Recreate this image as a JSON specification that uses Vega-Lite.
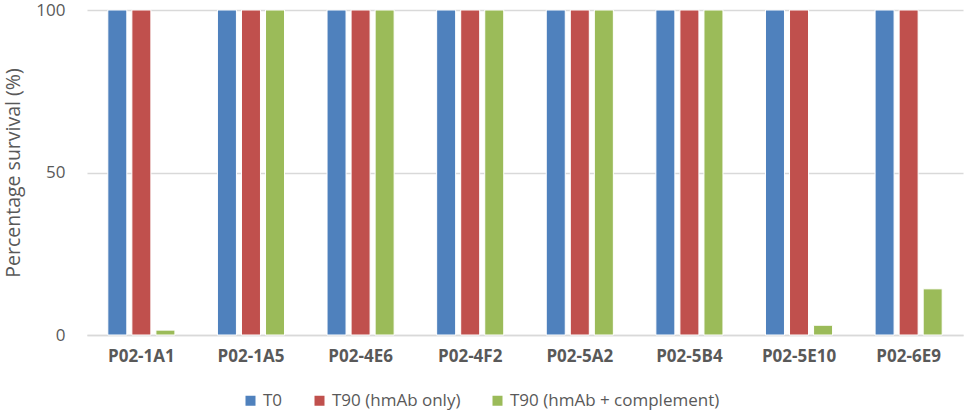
{
  "$schema": "https://vega.github.io/schema/vega-lite/v6.json",
  "width": 876,
  "height": 325,
  "autosize": {"type": "none"},
  "padding": {"left": 87, "right": 2, "top": 10, "bottom": 78},
  "config": {
    "view": {"stroke": null},
    "font": "Open Sans"
  },
  "data": {
    "values": [
      {"clone": "P02-1A1", "series": "T0", "value": 100},
      {"clone": "P02-1A1", "series": "T90 (hmAb only)", "value": 100},
      {"clone": "P02-1A1", "series": "T90 (hmAb + complement)", "value": 1.5},
      {"clone": "P02-1A5", "series": "T0", "value": 100},
      {"clone": "P02-1A5", "series": "T90 (hmAb only)", "value": 100},
      {"clone": "P02-1A5", "series": "T90 (hmAb + complement)", "value": 100},
      {"clone": "P02-4E6", "series": "T0", "value": 100},
      {"clone": "P02-4E6", "series": "T90 (hmAb only)", "value": 100},
      {"clone": "P02-4E6", "series": "T90 (hmAb + complement)", "value": 100},
      {"clone": "P02-4F2", "series": "T0", "value": 100},
      {"clone": "P02-4F2", "series": "T90 (hmAb only)", "value": 100},
      {"clone": "P02-4F2", "series": "T90 (hmAb + complement)", "value": 100},
      {"clone": "P02-5A2", "series": "T0", "value": 100},
      {"clone": "P02-5A2", "series": "T90 (hmAb only)", "value": 100},
      {"clone": "P02-5A2", "series": "T90 (hmAb + complement)", "value": 100},
      {"clone": "P02-5B4", "series": "T0", "value": 100},
      {"clone": "P02-5B4", "series": "T90 (hmAb only)", "value": 100},
      {"clone": "P02-5B4", "series": "T90 (hmAb + complement)", "value": 100},
      {"clone": "P02-5E10", "series": "T0", "value": 100},
      {"clone": "P02-5E10", "series": "T90 (hmAb only)", "value": 100},
      {"clone": "P02-5E10", "series": "T90 (hmAb + complement)", "value": 3},
      {"clone": "P02-6E9", "series": "T0", "value": 100},
      {"clone": "P02-6E9", "series": "T90 (hmAb only)", "value": 100},
      {"clone": "P02-6E9", "series": "T90 (hmAb + complement)", "value": 14.2}
    ]
  },
  "mark": {"type": "bar", "strokeWidth": 1},
  "encoding": {
    "x": {
      "field": "clone",
      "type": "nominal",
      "sort": null,
      "scale": {"paddingInner": 0.388, "paddingOuter": 0.19},
      "axis": {
        "title": null,
        "labelAngle": 0,
        "labelFontSize": 17,
        "labelFontWeight": "bold",
        "labelColor": "#595959",
        "labelPadding": 13,
        "ticks": false,
        "domainColor": "#d9d9d9",
        "domainWidth": 1.5
      }
    },
    "xOffset": {
      "field": "series",
      "type": "nominal",
      "sort": ["T0", "T90 (hmAb only)", "T90 (hmAb + complement)"],
      "scale": {"paddingInner": 0.21}
    },
    "y": {
      "field": "value",
      "type": "quantitative",
      "scale": {"domain": [0, 100], "nice": false},
      "axis": {
        "title": "Percentage survival (%)",
        "titleFontSize": 19.5,
        "titleFontWeight": "normal",
        "titleColor": "#595959",
        "titlePadding": 12,
        "values": [0, 50, 100],
        "labelFontSize": 17,
        "labelColor": "#595959",
        "labelPadding": 22,
        "ticks": false,
        "domain": false,
        "gridColor": "#d9d9d9",
        "gridWidth": 1.5
      }
    },
    "color": {
      "field": "series",
      "type": "nominal",
      "sort": ["T0", "T90 (hmAb only)", "T90 (hmAb + complement)"],
      "scale": {
        "domain": ["T0", "T90 (hmAb only)", "T90 (hmAb + complement)"],
        "range": ["#4F81BD", "#C0504D", "#9BBB59"]
      },
      "legend": {
        "title": null,
        "orient": "none",
        "legendX": 155,
        "legendY": 382,
        "direction": "horizontal",
        "symbolType": "square",
        "symbolSize": 100,
        "symbolStrokeWidth": 0,
        "symbolOpacity": 1,
        "labelFontSize": 17,
        "labelColor": "#595959",
        "labelLimit": 400,
        "labelOffset": 4,
        "columnPadding": 28
      }
    },
    "stroke": {"value": "white"}
  }
}
